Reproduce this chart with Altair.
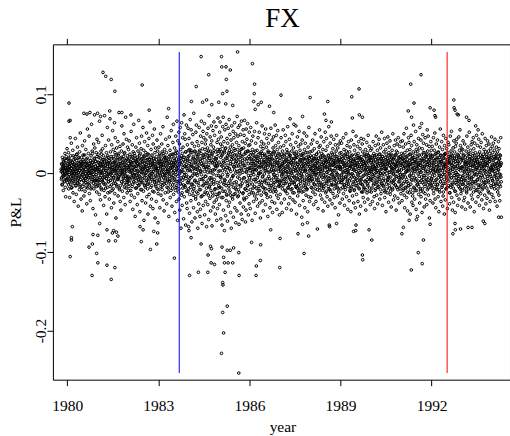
import altair as alt
import pandas as pd

# ---- daily P&L values (in thousandths), per calendar year, in time order ----
pnl_1979 = [5, -8, 12, 3, -15, 20, 0, -4, 9, -22, 14, 6, -2, 18, -11, 2, 25, -6, 10, -30, 7, -1, 16, -9, 4, 31]
pnl_1980 = [3, -12, 18, 7, -5, 26, -20, 11, -2, 9, -31, 15, 4, -9, 22, -14, 6, 38, -7, 1, -18, 13, -3, 29,
            -25, 8, 17, -11, 0, -36, 12, 5, 21, -6, 44, -16, 10, 2, -27, 16, -1, 24, -9, 33, -13, 7, -42, 19,
            12, -4, 3, -21, 27, 9, -15, 51, -8, 14, -33, 6, 20, -2, 11, -48, 35, -17, 4, 23, -10, 1, -29, 15,
            -5, 41, 8, -23, 13, -7, 30, -12, 18, -3, -39, 10, 2, 56, -19, 7, -14, 25, 0, -6, 47, -26, 12, 4,
            9, -35, 16, -1, 22, -11, 62, -18, 3, 28, -8, 14, -45, 6, -2, 37, -20, 11, 19, -4, 32, -15, 5, -53,
            15, -9, 26, 1, -24, 43, -7, 10]
pnl_1981 = [7, -16, 24, 2, 39, -8, 13, -27, 66, 4, -12, 19, -34, 9, 28, -3, -21, 15, 1, 48, -10, 31, -6, 11,
            22, -41, 6, -14, 17, 73, -2, -30, 10, 35, -19, 3, -7, 26, -52, 14, -4, 58, 8, -25, 20, -11, 42, 0,
            16, -33, 12, 5, 69, -17, 27, -9, -1, 21, -44, 36, 7, -22, 2, 54, 13, -6, 30, -13, -38, 18, 4, 64,
            -26, 9, 45, -3, 14, -57, 23, 6, 32, -15, 1, 17, -8, 40, -29, 11, -5, 25, 77, -19, 8, -2, 34, -36,
            19, 3, -47, 12, 28, -11, 60, 5, -23, 14, 0, 37, -7, 21, -31, 50, 9, -18, 26, 4, -40, 15, 71, -4,
            2, 43, -14, 18, -25, 7, 33, -10]
pnl_1982 = [-8, 17, 30, -22, 5, 41, -13, 9, 24, -36, 1, 14, -5, 53, -28, 11, 3, -17, 36, 20, -46, 7, 27, -2,
            62, -11, 13, -31, 4, 22, -55, 16, -6, 33, 9, -19, 45, -3, 15, -40, 12, -26, 28, 2, -9, 67, -15, 19,
            38, -4, -49, 10, 25, -21, 6, 31, -12, 47, 18, -35, 1, 14, -7, 58, 5, -23, 29, -60, 21, 8, 40, -16,
            -1, 16, -38, 26, 11, -10, 51, -30, 20, 3, -14, 35, -52, 13, 24, -6, 44, -27, 7, 18, -3, 65, -42, 10,
            -18, 30, 2, -33, 15, 23, -8, 48, 9, -45, 37, -2, 19, -24, 12, 56, -11, 26, -57, 4, 32, -15, 8, -36,
            17, -5, 42, -20, 1, 28, -63, 14]
pnl_1983 = [6, -21, 33, 12, -9, 24, -44, 15, -3, 50, 8, -28, 18, 1, 37, -12, 27, -16, 4, 59, -34, 11, -6, 22,
            -48, 14, 30, -2, 20, -25, 9, 43, 2, -13, 26, -39, 16, 71, -8, 5, 35, -19, 12, 0, -55, 21, 46, -10,
            -4, 29, -31, 17, 7, -22, 54, 3, 13, -42, 24, 8, -15, 39, -3, 62, -27, 10, 19, -7, 32, -50, 14, 25,
            1, 47, -18, 28, -36, 6, 66, -11, 22, -60, 41, 3, -24, 15, 52, -33, -9, 37, -47, 19, 58, -14, 30, -70,
            11, -28, 64, 2, -41, 25, 45, -19, 33, -5, -58, 20, 74, -30, 9, 50, -16, 43, 15, -66, 27, -2, 61, -38,
            8, -45, 36, 18, -23, 57, -12, 29]
pnl_1984 = [-20, 44, 12, -51, 30, -7, 68, 3, 26, -35, 55, -14, 9, -62, 38, 17, -3, 49, -28, 21, -44, 76, 6, -17,
            34, -10, -57, 27, 13, -33, 52, -1, 61, -24, 18, 40, -49, 5, -70, 23, -12, 35, -39, 10, 58, -21, 29, -55,
            15, -46, 47, 2, -30, 66, -8, 39, -64, 20, 31, -16, 53, -41, 11, 45, 7, -27, 63, -53, 24, -4, 37, -36,
            42, -13, 19, -68, 50, 8, -25, 32, -40, 57, -9, 28, -59, 16, 73, -18, 22, -32, 46, 1, -48, 36, -14, 60,
            -6, 41, -67, 25, 14, -29, 54, -43, 33, -11, 65, -37, 4, 48, -21, 18, -52, 27, 9, 59, -34, 13, -60, 39,
            10, -45, 30, 70, -19, 43, -3, -26]
pnl_1985 = [28, -40, 52, -18, 65, -5, 37, -58, 11, 46, -31, 22, -66, 34, 3, 59, -23, 71, -47, 14, 40, -12, -73, 26,
            55, -9, 31, -54, 19, 62, -35, 7, -28, 44, 16, -61, 38, -2, 57, -42, 24, -16, 68, -37, 5, 49, -24, 33,
            -50, 12, 42, -70, 27, 60, -14, 20, 36, -33, -4, 53, -56, 18, 45, -27, 8, 64, -44, 29, -19, 50, -63, 15,
            -11, 39, 23, -48, 72, 2, -30, 47, 58, -21, 9, 35, -65, 26, -7, 61, -38, 17, 49, -15, 30, -52, 66, 4,
            21, -59, 40, 13, -26, 55, -43, 32, -6, 48, -34, 67, 10, -20, 38, -62, 25, -47, 56, 1, -31, 43, 19, -16,
            63, -10, 28, -53, 35, 6, -39, 52]
pnl_1986 = [-14, 36, 7, -45, 23, 58, -3, 18, 41, -25, 12, -60, 30, 2, 47, -19, 5, -36, 26, 15, -8, 53, -29, 10,
            -51, 21, 38, -11, 4, -33, 64, 16, 29, -6, -42, 19, 45, -22, 8, -1, -17, 52, 13, -38, 25, 0, -57, 34,
            9, -28, 40, 17, -12, 60, -35, 22, -4, 31, -48, 6, 37, -19, 14, 50, 24, -9, 3, -40, 56, 11, -26, 33,
            -13, 44, 20, -31, 7, -55, 28, 15, 38, 1, -21, 49, -7, 17, -44, 26, -30, 12, 57, -16, 22, 4, -36, 42,
            18, -50, 9, 32, -24, 46, -2, -12, 3, 27, -38, 14, 61, -18, 35, -6, -23, 48, 10, -46, 20, 30, -10, 54,
            13, -32, 39, 2, -15, 24, -53, 8]
pnl_1987 = [16, -27, 33, 4, -11, 45, -38, 9, -2, 21, -50, 28, 12, -16, 55, 1, 35, -8, 14, -33, 24, 6, -22, 48,
            -13, 40, -4, 17, -45, 30, 2, -26, 10, 59, -19, 7, 26, -39, 15, -5, 43, -14, -31, 22, 1, 36, -9, 13,
            -47, 18, 28, -20, 50, -3, 11, -34, 5, 32, -12, 62, -25, 19, -6, 24, -37, 14, 3, 39, -18, 27, -52, 8,
            20, -7, 46, -29, 11, -1, 34, -15, -24, 53, 9, -41, 16, 29, -10, 4, 37, -19, 23, -3, -56, 13, 42, -8,
            2, 25, -35, 18, 6, -23, 51, -12, 30, -44, 12, 38, -16, 3, -28, 20, -6, 47, -21, 8, 26, -49, 15, 33,
            11, -30, 58, -9, 19, -36, 4, 27]
pnl_1988 = [-10, 22, 5, -31, 37, -4, 15, -19, 28, -7, 42, -24, 9, 1, -40, 18, 3, 31, -15, 12, 50, -27, 7, -2,
            -36, 19, 24, -9, 14, 39, -21, 6, 16, -45, 2, 27, -12, 33, -5, 55, -18, 9, 35, -28, 20, -1, 46, -14,
            25, -33, 11, 4, -22, 30, -48, 13, -3, 40, -17, 21, 7, -37, 17, 52, 12, -25, 29, -6, 44, -13, 1, -30,
            34, 8, -42, 15, 23, -10, 59, -20, -7, 18, 5, -34, 38, 14, -23, 10, 47, -15, 26, -2, -39, 20, 3, 31,
            -26, 11, -8, 43, 16, -31, 24, -4, 9, -44, 36, 13, -16, 28, -11, 48, 21, -1, -29, 6, 32, -20, 15, -53,
            -12, 37, 17, -6, 25, -38, 8, 41]
pnl_1989 = [7, -20, 26, -3, 38, -12, 14, -33, 19, 2, -8, 45, -26, 11, 30, -15, -41, 16, 6, -18, 24, -5, 50, 1,
            28, -30, 12, 35, -10, 21, -46, 4, -14, 40, -2, 17, -35, 9, 27, -22, 33, -7, 19, -49, 13, 42, -17, 5,
            -1, 23, -29, 8, 53, -11, 15, -38, 36, 4, -21, 29, -6, 18, -44, 10, -16, 47, 2, -27, 22, 13, -9, 34,
            11, -36, 25, -3, 40, -19, 6, -52, 20, 1, 31, -13, -42, 16, 44, -8, -24, 9, 17, 37, -15, 27, -4, -31,
            5, 43, -20, 12, 24, -37, 3, 14, -11, 30, -47, 21, 8, -2, 39, -25, 26, -14, 10, -33, 48, 15, -6, 22,
            -3, 34, -23, 7, 18, -40, 29, 2]
pnl_1990 = [13, -24, 4, 31, -9, 20, -36, 8, -2, 40, -15, 16, 25, -30, 6, -45, 22, -6, 35, 10, -20, 1, 47, -12,
            -28, 14, 3, 29, -39, 18, -4, 37, 9, -17, 43, -8, 12, -33, 24, 0, 32, -1, -26, 19, 5, 52, -13, 15,
            -41, 21, 11, -16, 36, -7, 27, -22, 6, 44, -31, 2, 17, -10, 30, -49, 24, -14, 8, 38, -25, 13, -3, 46,
            -8, 16, -37, 26, 1, 33, -19, 10, 41, -27, 14, -5, 22, -43, 7, 19, -12, 29, 3, -21, 50, -1, 12, -34,
            18, -9, 35, 6, -29, 23, -15, 42, -4, 11, -47, 28, 15, -18, 37, 2, 26, -32, 9, 45, -11, 20, -6, -38,
            1, 34, -20, 13, -2, 40, -26, 17]
pnl_1991 = [-7, 25, 12, -35, 41, -2, 18, -22, 33, -13, 6, 50, -28, 15, -44, 9, 20, -5, 37, -19, 2, 57, -31, 13,
            -11, 29, -48, 22, 8, -16, 45, 3, 39, -25, 16, -3, 30, -52, 11, 24, -14, 48, -8, 35, -37, 4, 19, -29,
            12, -41, 27, 61, -18, 7, 40, -6, -33, 17, 2, -22, 53, 14, -46, 30, 5, 36, -15, 21, -55, 28, 9, -10,
            44, -27, 13, -4, 32, -38, 58, 1, -20, 10, 42, -30, 23, -9, 16, -50, 31, -12, 49, 6, -24, 38, -3, 19,
            -43, 26, 8, -17, 45, 2, -33, 14, 22, -6, 36, -40, 11, 55, -21, 28, -1, 47, -28, 15, -12, 34, -57, 9,
            17, -35, 24, 3, 40, -15, 29, -8]
pnl_1992 = [10, -19, 34, -4, 22, -38, 6, 45, -26, 13, 1, 29, -12, 51, -33, 16, 4, -44, 25, 37, -8, 18, -21, 2,
            42, -15, 9, -30, 27, 5, -49, 20, -3, 33, -24, 14, 56, -11, 23, -36, 15, -7, 40, -18, 3, 30, -42, 11,
            -29, 48, 7, -13, 19, -52, 35, -2, 24, -34, 12, 44, -20, 8, -5, 31, -9, 17, -45, 26, 2, 39, -16, 13,
            36, -1, 21, -39, 14, -25, 47, 6, -18, 28, -6, 53, -31, 10, 22, -47, 5, -14, 32, 16, -37, 41, -3, 19,
            27, -23, 8, -50, 34, 1, -12, 38, -6, 43, -28, 12, 24, -41, 15, -2, 20, -10, 46, -33, 7, 29, -19, 55,
            -15, 35, 3, -26, 18, -8, 31, -43]
pnl_1993 = [8, -22, 30, -5, 41, -14, 16, -35, 23, 2, -31, 37, -9, 14, -46, 11, -17, 28, 6, -25, 47, -3, 19, -12,
            33, -38, 13, 4, -20, 25, 52, -7, -1, 18, -43, 29, 10, -15, 36, -28, 15, -6, 40, -33, 22, 3, -11, 45,
            -24, 31, 9, -49, 17, 38, -2, 12, 26, -13, -37, 20, 5, 48, -21, 7, -8, 35, 14, -30, 24, -4, 43, -18,
            11, -41, 27, 1, -15, 33, -26, 19, 39, -10, 6, -34, 21, 50, -5, 13, -19, 24, -45, 16, 30, -12, 8, -28,
            3, 44, -16, 27, -39, 12, 35, -2, 21, -32, 10, 41, -7, 18, -23, 28, -12, 37, 2, -47, 25, 15, -36, 6,
            31, -4, 20, -18, 46, -27, 9, 34]
pnl_1994 = [-9, 26, 4, -31, 38, -14, 17, 2, 29, -20, 11, 43, -36, 8, -3, 22, -15, 33, -6, 19, -42, 12, 27, -24,
            5, -11, 40, 14, -28, 31, -1, 18, -35, 23, 9, -17, 45, -5, 13, -56]

# ---- the quieter days that form the dense band around zero (thousandths) ----
core_1979 = [2, -6, 11, -14, 7, 0, 17, -3, 9, -10, 4, 13, -18, 6, -1, 21, -8, 3]
core_1980 = [1, -7, 12, 5, -15, 19, -2, 8, -11, 3, 16, -5, 10, -19, 6, 0, 14, -9, 2, 22, -4, 11, -13, 7,
             -1, 18, -8, 4, -16, 9, 24, -3, 6, -12, 13, 1, -6, 20, -10, 3, -17, 8, 0, 15, -5, 10, -21, 12,
             4, -2, 17, -9, 7, -14, 2, 23, -7, 11, -1, 5, -18, 14, 9, -4, 19, -11, 3, -6, 12, 0, -15, 8,
             -3, 16, 6, -20, 10, -8, 1, 13, 25, -5, 7, -13, 2, 18, -10, 4, -9, 9, 15, -2, -17, 6, 21, -12]
core_1981 = [5, -10, 14, -3, 20, 7, -16, 1, -6, 11, 2, -19, 9, 24, -8, 13, -1, 17, -12, 4, -22, 8, 15, -5,
             10, -14, 3, 19, -7, 0, 12, -18, 22, -2, 6, -11, 16, -4, 9, -24, -9, 13, 1, 18, -15, 5, -3, 11,
             7, -20, 21, -6, 2, 14, -10, 26, -13, 4, 10, -1, -17, 8, 19, -7, 3, 23, -8, 12, -4, -21, 6, 15,
             -16, 9, 0, 20, -11, 3, 13, -2, 18, -5, -14, 7, 25, -9, 1, 11, -3, 16, -19, 5, 10, -12, 22, -6]
core_1982 = [-4, 12, 7, -17, 19, 2, -9, 15, 10, -22, 4, 13, -6, 21, -1, -14, 16, -3, -11, 8, 25, -7, 1, 18,
             -19, 6, 14, -2, 9, -13, 20, 3, -8, 17, -16, 11, 0, 23, -5, 7, 13, -10, 2, -21, 15, 5, -12, 19,
             -1, 9, 22, -6, -15, 12, 4, -18, 8, -3, 16, 1, -9, 24, -20, 6, -14, 10, 3, 17, -7, -2, 14, -11,
             20, -5, 7, -16, 11, 0, -23, 13, 2, 18, -8, 5, -12, 15, 9, -4, -17, 6, 21, -10, 4, -1, 12, -26]
core_1983 = [6, -13, 18, 1, -8, 22, -4, 11, -17, 9, 3, 15, -21, 7, -2, 25, 12, -6, -14, 19, 0, -10, 16, 5,
             -3, 20, 8, -18, 13, -7, 2, -24, 17, 4, -11, 10, -1, 23, -15, 6, -9, 14, 21, -5, 7, -19, 11, 1,
             24, -12, 3, 16, -8, 9, -22, 13, -2, 18, -16, 5, 26, -4, 10, -11, 8, -20, 15, -1, 12, 2, -13, 19,
             -6, 22, 4, -25, 14, -9, 7, 17, -15, 1, 20, -3, 9, -18, 27, -7, 11, -23, 6, 16, -12, 3, 21, -5]
core_1984 = [-10, 22, 4, -27, 15, 8, -18, 29, 11, -5, 26, -14, 2, -23, 19, 7, -20, 13, -1, 28, -9, 17, -30, 5,
             24, -12, 9, -3, 21, -26, 14, 1, -16, 27, 6, -8, 18, -21, 3, 25, -2, 12, -29, 16, 10, -7, 23, -15,
             20, -11, 2, 30, -24, 8, -4, 14, -19, 5, 26, -13, 1, 22, -28, 11, 7, -17, 19, -6, 28, 3, -22, 16,
             -9, 24, 13, -25, 4, -1, 20, -14, 29, -8, 10, -20, 15, 6, -27, 18, -3, 21, -12, 9, -30, 25, 2, -16]
core_1985 = [14, -25, 3, 30, -11, 20, -6, 27, -19, 9, 24, -2, -31, 16, 7, -14, 28, -8, 12, -23, 5, 32, -16, 1,
             -27, 19, -4, 22, 10, -13, 26, -20, 6, 29, -10, 15, -28, 2, 21, -7, 17, -30, 11, 25, -3, -18, 8, 31,
             -12, 4, 23, -26, 13, 0, -21, 18, 9, -15, 30, -5, 20, -29, 14, 3, -24, 26, -1, 11, -17, 22, 6, -9,
             31, -13, 16, 1, -25, 10, -32, 24, -6, 18, 7, -20, 27, -11, 2, 15, -22, 5, 28, -16, 12, -3, 21, -27]
core_1986 = [-6, 18, 3, -21, 12, 26, -9, 7, 15, -14, 1, 23, -25, 10, -2, 19, -17, 5, 28, -8, 13, -19, 4, 21,
             9, -26, 16, -3, 24, 0, -12, 14, -22, 7, 20, -10, 2, 27, -15, 11, 25, -5, -18, 13, 8, -24, 17, -1,
             -11, 22, 6, -20, 15, 3, -27, 10, 19, -7, 12, 26, -13, -4, 21, -16, 2, 14, -23, 9, 18, -9, 5, 24,
             -19, 11, 1, -14, 27, -6, 16, -2, 8, -21, 23, 4, -11, 20, -28, 13, -3, 17, -8, 25, 6, -17, 10, -12]
core_1987 = [7, -16, 20, 2, -9, 24, -4, 12, -20, 10, -1, 17, 5, -13, 22, -7, 14, 3, -23, 8, 19, -11, 1, 26,
             -6, 15, -18, 11, -2, 21, 6, -15, 23, -8, 4, -21, 13, 0, 18, -12, 9, -25, 16, 2, -5, 25, -14, 7,
             -10, 19, 12, -17, 3, -3, 22, -19, 5, 11, -8, 24, -22, 14, 1, -6, 17, -13, 6, 20, -1, 9, -24, 15,
             -4, 23, 10, -16, 8, -9, 18, 2, -18, 4, 26, -11, 13, -2, -20, 16, 11, -7, 21, -14, 0, 19, -5, 8]
core_1988 = [-3, 14, 6, -18, 20, -7, 10, 1, 16, -11, 3, 22, -14, 8, -2, 18, -20, 12, 0, -6, 24, 5, -15, 9,
             13, -9, 19, -1, 7, -22, 15, 4, -12, 21, 2, -16, 11, 17, -5, 6, 23, -8, -19, 13, 1, 9, -13, 20,
             -4, 16, 8, -23, 14, -10, 5, 18, 2, -17, 22, -3, 12, 7, -21, 11, -7, 19, 4, -12, 17, -1, 24, -15,
             10, -5, 15, 3, -20, 13, -9, 6, 21, -14, 1, 18, -6, 8, -18, 16, -2, 11, -24, 9, 20, -8, 5, 14]
core_1989 = [5, -12, 17, -2, 21, -9, 8, -18, 13, 1, -6, 23, -15, 10, 3, -21, 19, -4, 11, -13, 7, 24, -8, 2,
             -17, 14, 0, 20, -10, 6, -23, 16, 9, -19, 22, -5, 12, -1, 15, -14, -3, 18, 4, -22, 10, 13, -11, 7,
             24, -7, 2, 16, -16, 9, -2, 20, -12, 6, 19, -20, 14, -6, 1, 11, -9, 21, 8, -14, 3, 17, -24, 12,
             15, -3, -18, 10, 22, -10, 5, -1, -21, 13, 7, 18, -8, 4, -16, 23, 2, -11, 16, 0, -19, 20, 6, -7]
core_1990 = [-8, 16, 2, -19, 11, 22, -4, 9, 14, -13, 5, 20, -1, -22, 17, 6, -10, 23, 8, -15, 3, 12, -18, 19,
             1, -6, 24, -11, 15, 4, -21, 10, 18, -3, -14, 7, 21, -9, 13, 0, -17, 9, 16, -2, -24, 11, 5, 20,
             6, -20, 12, 3, 19, -7, -12, 15, -5, 22, -16, 10, 1, 17, -23, 8, 24, -10, 4, 14, -19, 6, 18, -1,
             -13, 11, 20, -8, 7, -15, 2, 23, 9, -4, -18, 16, 12, -21, 3, 14, -6, 19, 5, -11, 21, -2, -16, 10]
core_1991 = [4, -15, 19, 9, -6, 23, -20, 12, -2, 16, -11, 26, 7, -18, 1, 14, 21, -8, 3, -24, 17, 10, -13, 5,
             -16, 11, 24, -4, 13, -21, 8, 18, 0, -9, 15, 22, -25, 6, -3, 20, 12, -19, 2, 17, -10, 25, -7, 9,
             -22, 14, 6, -14, 19, -1, 11, -17, 23, 3, -12, 10, 16, -23, 5, 1, -5, 18, -20, 13, 8, -8, 26, -14,
             15, -3, 9, -26, 21, 4, -11, 17, -9, 24, 2, -15, 11, -19, 20, 7, 13, -6, 18, -10, 3, 22, -16, 0]
core_1992 = [-7, 13, 21, -12, 5, 18, -22, 9, 16, -3, -17, 24, 2, -9, 11, -19, 8, 20, -14, 4, 26, -6, 14, -1,
             -21, 10, 3, 17, -11, 22, -4, 7, 15, -16, 12, -2, 19, -24, 6, 23, -8, 1, 25, -13, 9, 14, -20, 11,
             3, -18, 17, 7, -5, 21, -10, 16, -25, 12, -1, 20, 4, -15, 24, -6, 10, 18, -12, 2, -19, 13, 8, -3,
             22, -9, 15, -23, 6, 1, 19, -14, -2, 16, 9, -7, 23, -17, 5, 12, -11, 20, -4, 14, -21, 7, 26, -8]
core_1993 = [6, -14, 18, -3, 22, -10, 9, 1, -19, 12, 4, 20, -7, 15, -23, 8, 13, -1, -16, 24, 2, 10, -12, 17,
             -5, 21, 7, -20, 14, -8, 3, 19, -13, 9, 25, -4, 11, -18, 16, 0, 22, -11, 5, 13, -22, 7, -2, 18,
             -9, 15, 1, -15, 20, 10, -24, 6, 12, -6, 23, -17, 3, 16, -3, 8, -21, 19, 11, -1, 9, -14, 21, 4,
             17, -8, -12, 14, 2, 24, -19, 10, -4, 13, 20, -10, 6, -25, 15, 1, 18, -2, 7, -16, 22, 5, -7, 11]
core_1994 = [3, -10, 16, 8, -17, 21, -4, 12, -1, 19, -13, 6, 24, -8, 10, 1, -20, 14, 4, -6, 18, -15, 9, 22,
             -2, 11, -11]

# year span covered by each pair of arrays: (start, length, wide days, quiet days)
year_spans = [(1979.8, 0.2, pnl_1979, core_1979), (1980, 1, pnl_1980, core_1980),
              (1981, 1, pnl_1981, core_1981), (1982, 1, pnl_1982, core_1982),
              (1983, 1, pnl_1983, core_1983), (1984, 1, pnl_1984, core_1984),
              (1985, 1, pnl_1985, core_1985), (1986, 1, pnl_1986, core_1986),
              (1987, 1, pnl_1987, core_1987), (1988, 1, pnl_1988, core_1988),
              (1989, 1, pnl_1989, core_1989), (1990, 1, pnl_1990, core_1990),
              (1991, 1, pnl_1991, core_1991), (1992, 1, pnl_1992, core_1992),
              (1993, 1, pnl_1993, core_1993), (1994, 0.3, pnl_1994, core_1994)]

# individually read extreme days (year, P&L in thousandths)
out_year = [1980.06, 1980.06, 1980.10, 1980.10, 1980.17, 1980.14, 1980.14, 1980.10, 1980.82, 1981.45,
            1981.01, 1981.31, 1981.57, 1980.97, 1980.72, 1980.83, 1980.85, 1981.01, 1981.37, 1981.59,
            1981.67, 1981.53, 1981.62, 1981.07, 1981.31, 1981.49,
            1981.18, 1981.27, 1981.45, 1981.57, 1982.47, 1983.34,
            1980.55, 1980.65, 1980.75, 1980.90, 1981.00, 1981.10, 1981.40, 1981.80, 1982.10, 1982.70,
            1982.44, 1982.74, 1982.95, 1983.53, 1982.40, 1982.50, 1982.85, 1982.98,
            1984.00, 1984.01, 1984.08, 1984.32, 1984.03,
            1984.41, 1985.08, 1985.61, 1985.09, 1985.23, 1985.37, 1986.10, 1984.66, 1985.24, 1984.25, 1986.17,
            1985.26, 1985.12, 1986.16, 1987.04, 1988.00, 1988.58,
            1984.09, 1984.46, 1984.59, 1984.76, 1984.99, 1985.22, 1985.45, 1986.14, 1986.39, 1986.29, 1986.66,
            1986.19, 1986.80, 1987.34, 1987.75, 1988.47, 1988.52, 1988.70, 1987.53,
            1991.65, 1991.31, 1989.61, 1989.37, 1991.42, 1991.23, 1991.95, 1992.08, 1992.11, 1992.13, 1992.73,
            1992.74, 1992.77, 1992.84, 1992.88, 1993.15, 1993.23, 1991.34, 1991.67, 1989.39, 1989.62, 1989.72,
            1993.45, 1993.53,
            1991.33, 1989.72, 1989.73, 1991.56, 1991.69, 1990.03, 1991.73, 1991.02, 1991.07, 1989.94, 1989.43,
            1989.50, 1989.51, 1988.87, 1988.63, 1991.95, 1992.77, 1992.78, 1992.70, 1991.26, 1991.50, 1992.95,
            1993.20, 1993.33, 1993.70, 1993.75, 1994.21,
            1985.65, 1985.08, 1985.15, 1985.12, 1985.27, 1985.12, 1985.13, 1984.63, 1985.20, 1985.66, 1986.22,
            1987.00, 1986.23, 1986.36, 1985.18, 1985.30, 1985.45, 1984.74, 1984.85, 1984.64, 1985.15, 1987.80,
            1984.41, 1984.72, 1984.75, 1985.10, 1985.27, 1985.37, 1985.48, 1985.65, 1986.07, 1986.37, 1987.01,
            1987.95, 1987.60, 1988.24, 1988.64, 1987.91, 1987.75, 1986.70]
out_pnl = [89, 66, 67, 45, -68, -82, -85, -106, -130, -135,
           -114, -117, -120, -102, -94, -90, -78, -79, -86, -86,
           -80, -73, -75, -64, -72, -76,
           128, 123, 119, 104, 112, 82,
           76, 75, 77, 74, 76, 72, 79, 77, 74, 80,
           -87, -97, -90, -108, -68, -72, -74, -76,
           -68, -73, -82, -126, -130,
           148, 148, 154, 135, 135, 131, 139, 125, 119, 110, 113,
           104, 101, 101, 99, 96, 91,
           91, 90, 93, 87, 90, 88, 86, 91, 90, 87, 85,
           81, 77, 69, 72, 75, 67, 65, 60,
           125, 113, 107, 97, 89, 79, 83, 80, 73, 71, 93,
           83, 80, 75, 74, 71, 67, 71, 63, 70, 74, 71,
           60, 55,
           -123, -104, -110, -101, -115, -85, -85, -77, -69, -72, -74,
           -73, -66, -64, -66, -65, -64, -72, -77, -60, -59, -71,
           -69, -69, -61, -64, -56,
           -254, -229, -203, -177, -169, -139, -142, -126, -126, -130, -130,
           -120, -118, -111, -114, -114, -114, -114, -116, -104, -107, -102,
           -90, -93, -96, -94, -98, -98, -95, -101, -88, -91, -83,
           -80, -77, -71, -68, -63, -65, -72]

split_years = [1983.69, 1992.51]   # blue, red
split_colors = ["#0000FF", "#FF0000"]
x_ticks = [1980, 1983, 1986, 1989, 1992]
y_ticks = [-0.2, -0.1, 0, 0.1]
title_text = ["FX"]

# ---- build table ----
xs, ys = [], []
for start, span, wide, quiet in year_spans:
    for vals, shift in ((wide, 0.5), (quiet, 0.25)):
        n = len(vals)
        for i, v in enumerate(vals):
            xs.append(start + (i + shift) / n * span)
            ys.append(v / 1000.0)
xs += out_year
ys += [v / 1000.0 for v in out_pnl]
df = pd.DataFrame({"year": xs, "pnl": ys})
ymin, ymax = min(ys), max(ys)

FONT = "Liberation Serif"
xscale = alt.Scale(domain=[1979.53, 1994.58], nice=False, zero=False)
yscale = alt.Scale(domain=[-0.2624, 0.1636], nice=False, zero=False)

points = alt.Chart(df).mark_point(shape="circle", filled=False, size=7, strokeWidth=1,
                                  color="black", opacity=1).encode(
    x=alt.X("year:Q", scale=xscale,
            axis=alt.Axis(values=x_ticks, format="d", title="year",
                          labelBaseline="alphabetic", labelPadding=25, titleX=230, titleY=51.7,
                          titleBaseline="alphabetic", titleAlign="center")),
    y=alt.Y("pnl:Q", scale=yscale,
            axis=alt.Axis(values=y_ticks, labelExpr="toString(datum.value)",
                          labelAngle=270, labelAlign="center", labelBaseline="alphabetic",
                          labelPadding=1, title="P&L", titleAngle=270, titleX=-32.5, titleY=168,
                          titleBaseline="alphabetic", titleAlign="center")),
)

rule_layers = []
for k, (yr, col) in enumerate(zip(split_years, split_colors)):
    rdf = pd.DataFrame({"year": [yr], "lo": [ymin], "hi": [ymax]})
    if k == 0:
        enc_x = alt.X("year:Q", scale=xscale,
                      axis=alt.Axis(orient="top", values=x_ticks, labels=False, title=None))
    else:
        enc_x = alt.X("year:Q", scale=xscale, axis=None)
    rule_layers.append(
        alt.Chart(rdf).mark_rule(color=col, strokeWidth=1).encode(
            x=enc_x,
            y=alt.Y("lo:Q", scale=yscale, axis=None),
            y2="hi:Q",
        )
    )

title_layer = alt.Chart(pd.DataFrame({"t": title_text})).mark_text(
    font=FONT, fontSize=27, baseline="alphabetic", align="center", color="black"
).encode(text="t:N", x=alt.value(230), y=alt.value(-17.3))

chart = alt.layer(points, *rule_layers, title_layer).resolve_axis(
    x="independent", y="independent"
).properties(
    width=458, height=336,
    autosize=alt.AutoSizeParams(type="none"),
    padding={"left": 53, "top": 44, "right": 0, "bottom": 56},
).configure_view(stroke="black", strokeWidth=1).configure_axis(
    grid=False, domain=False, tickColor="black", tickSize=6, tickWidth=1,
    labelFont=FONT, labelFontSize=15.5, labelColor="black",
    titleFont=FONT, titleFontSize=15.5, titleFontWeight="normal", titleColor="black",
)

chart.save("out.html", embed_options={"renderer": "svg", "actions": False})
